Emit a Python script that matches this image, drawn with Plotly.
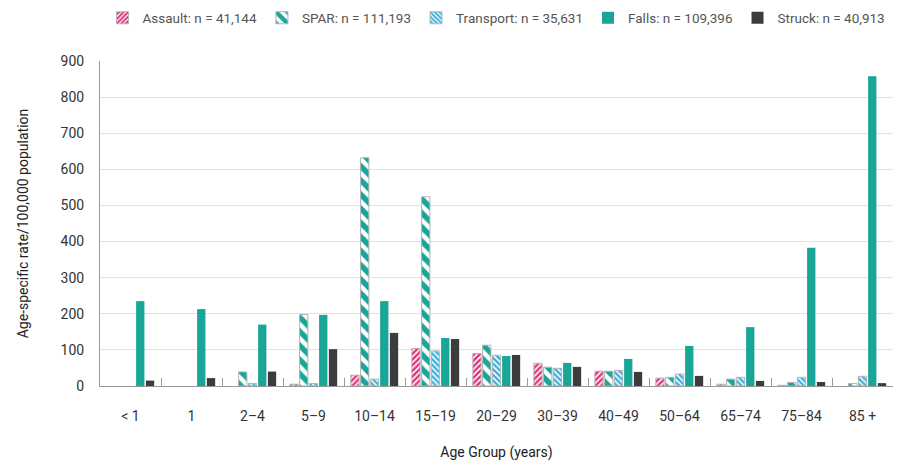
import plotly.graph_objects as go

categories = ["< 1", "1", "2\u20134", "5\u20139", "10\u201314", "15\u201319", "20\u201329",
              "30\u201339", "40\u201349", "50\u201364", "65\u201374", "75\u201384", "85 +"]

assault = [None, None, None, 5, 30, 104, 90, 63, 41, 22, 5, 2, None]
spar = [None, None, 39, 198, 632, 524, 113, 52, 41, 24, 19, 10, 7]
transport = [None, None, 7, 7, 19, 97, 85, 49, 43, 33, 24, 24, 27]
falls = [235, 213, 170, 197, 235, 133, 83, 64, 75, 111, 163, 383, 858]
struck = [15, 22, 40, 102, 147, 130, 86, 53, 39, 28, 14, 11, 8]

names = ["Assault: n = 41,144", "SPAR: n = 111,193", "Transport: n = 35,631",
         "Falls: n = 109,396", "Struck: n = 40,913"]

TEAL = "#19a597"
PINK = "#e0307a"
BLUE = "#3aaee0"
DARK = "#3c3c3e"
OUTLINE = "#b4b4b4"

fig = go.Figure()
fig.add_trace(go.Bar(x=categories, y=assault, name=names[0],
                     marker=dict(color="white", line=dict(color=OUTLINE, width=1),
                                 pattern=dict(shape="/", fgcolor=PINK, bgcolor="white",
                                              size=4, solidity=0.6, fgopacity=1))))
fig.add_trace(go.Bar(x=categories, y=spar, name=names[1],
                     marker=dict(color="white", line=dict(color=OUTLINE, width=1),
                                 pattern=dict(shape="\\", fgcolor=TEAL, bgcolor="white",
                                              size=10, solidity=0.55, fgopacity=1))))
fig.add_trace(go.Bar(x=categories, y=transport, name=names[2],
                     marker=dict(color="white", line=dict(color=OUTLINE, width=1),
                                 pattern=dict(shape="\\", fgcolor=BLUE, bgcolor="white",
                                              size=4, solidity=0.6, fgopacity=1))))
fig.add_trace(go.Bar(x=categories, y=falls, name=names[3],
                     marker=dict(color=TEAL, line=dict(width=0))))
fig.add_trace(go.Bar(x=categories, y=struck, name=names[4],
                     marker=dict(color=DARK, line=dict(width=0))))

fig.update_layout(
    width=911, height=466, autosize=False,
    margin=dict(l=100, r=18, t=61, b=80, autoexpand=False),
    paper_bgcolor="white", plot_bgcolor="white",
    barmode="group", bargap=0.2, bargroupgap=0.15,
    font=dict(family="Roboto, sans-serif", size=14, color="#333333"),
    legend=dict(orientation="h", x=0.5, xanchor="center", xref="paper",
                y=1 - 18 / 466, yanchor="middle", yref="container",
                font=dict(size=13.5, color="#555555"), traceorder="normal"),
    xaxis=dict(
        type="category", showline=True, linecolor="#9a9a9a", linewidth=1,
        ticks="inside", tickson="boundaries", ticklen=8, tickcolor="#9a9a9a",
        showgrid=False, tickfont=dict(size=14, color="#333333"),
        ticklabelstandoff=17, automargin=False,
        title=dict(text="Age Group (years)", font=dict(size=14, color="#222222"), standoff=24),
    ),
    yaxis=dict(
        range=[0, 900], dtick=100, showline=True, linecolor="#9a9a9a", linewidth=1,
        showgrid=True, gridcolor="#e2e2e2", gridwidth=1, zeroline=False,
        tickfont=dict(size=14, color="#333333"), ticklabelstandoff=12, automargin=False,
        title=dict(text="Age-specific rate/100,000 population",
                   font=dict(size=14, color="#222222"), standoff=28),
    ),
)

fig.write_html("out.html")
